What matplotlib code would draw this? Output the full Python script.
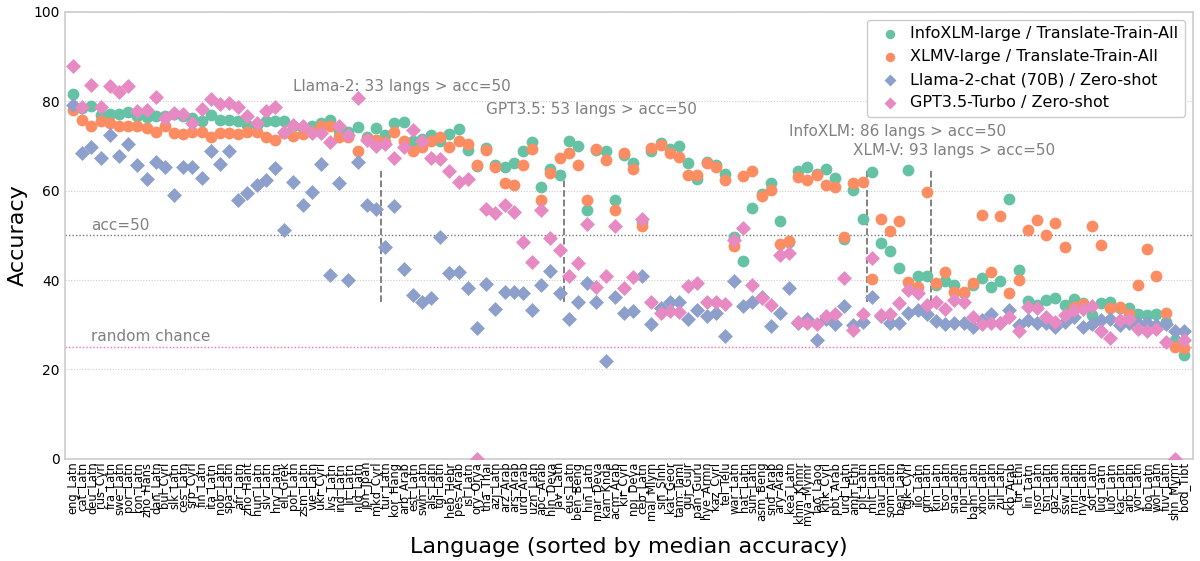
import numpy as np
import matplotlib
matplotlib.use("Agg")
import matplotlib.pyplot as plt


langs = [
    "eng_Latn", "cat_Latn", "deu_Latn", "rus_Cyrl", "fra_Latn", "swe_Latn", "por_Latn", "ron_Latn",
    "zho_Hans", "dan_Latn", "bul_Cyrl", "slk_Latn", "ces_Latn", "srp_Cyrl", "fin_Latn", "ita_Latn",
    "nob_Latn", "spa_Latn", "afr_Latn", "zho_Hant", "hun_Latn", "slv_Latn", "hrv_Latn", "ell_Grek",
    "pol_Latn", "zsm_Latn", "vie_Latn", "ukr_Cyrl", "lvs_Latn", "ind_Latn", "lit_Latn", "nld_Latn",
    "jpn_Jpan", "mkd_Cyrl", "tur_Latn", "kor_Hang", "arb_Arab", "est_Latn", "swh_Latn", "als_Latn",
    "tgl_Latn", "heb_Hebr", "pes_Arab", "isl_Latn", "ory_Orya", "tha_Thai", "azj_Latn", "arz_Arab",
    "ars_Arab", "urd_Arab", "uzn_Latn", "apc_Arab", "hin_Deva", "jav_Latn", "eus_Latn", "ben_Beng",
    "hin_Latn", "mar_Deva", "kan_Knda", "acm_Arab", "kir_Cyrl", "npi_Deva", "ceb_Latn", "mal_Mlym",
    "sin_Sinh", "kat_Geor", "tam_Taml", "guj_Gujr", "pan_Guru", "hye_Armn", "kaz_Cyrl", "tel_Telu",
    "war_Latn", "hat_Latn", "sun_Latn", "asm_Beng", "snd_Arab", "ary_Arab", "kea_Latn", "khm_Khmr",
    "mya_Mymr", "lao_Laoo", "khk_Cyrl", "pbt_Arab", "urd_Latn", "amh_Ethi", "plt_Latn", "mlt_Latn",
    "hau_Latn", "som_Latn", "ben_Latn", "tgk_Cyrl", "ilo_Latn", "grn_Latn", "kin_Latn", "tso_Latn",
    "sna_Latn", "npi_Latn", "bam_Latn", "xho_Latn", "sin_Latn", "zul_Latn", "ckb_Arab", "tir_Ethi",
    "lin_Latn", "nso_Latn", "tsn_Latn", "gaz_Latn", "ssw_Latn", "mri_Latn", "nya_Latn", "sot_Latn",
    "lug_Latn", "luo_Latn", "kac_Latn", "arb_Latn", "yor_Latn", "ibo_Latn", "wol_Latn", "fuv_Latn",
    "shn_Mymr", "bod_Tibt",
]

infoxlm = [
    81.6, 78.5, 79.0, 77.0, 77.1, 77.1, 77.5, 76.6, 76.4, 76.7, 76.8, 77.1, 76.6, 76.2, 75.5, 77.0,
    75.7, 75.7, 75.5, 74.7, 74.7, 75.6, 75.6, 75.5, 74.4, 73.9, 74.4, 75.1, 75.8, 73.4, 73.2, 74.2,
    72.1, 74.1, 72.5, 75.1, 75.4, 71.0, 71.5, 72.5, 71.0, 72.6, 73.8, 69.1, 65.5, 69.5, 65.8, 65.2,
    66.1, 68.8, 70.8, 60.8, 64.8, 63.5, 71.0, 69.9, 55.7, 69.0, 68.8, 57.8, 68.0, 66.1, 53.0, 68.8,
    70.6, 69.3, 69.9, 66.1, 62.6, 66.3, 65.8, 63.7, 49.7, 44.3, 56.1, 59.2, 61.7, 53.1, 48.4, 64.5,
    65.3, 63.8, 64.8, 62.8, 49.1, 60.2, 53.6, 64.1, 48.3, 46.4, 42.8, 64.7, 40.8, 40.8, 39.0, 39.7,
    38.9, 37.1, 39.0, 40.4, 38.5, 39.8, 58.2, 42.3, 35.4, 34.4, 35.6, 35.9, 34.4, 35.8, 34.8, 32.2,
    34.8, 35.2, 33.7, 33.8, 32.4, 32.2, 32.5, 30.7, 26.6, 23.3,
]

xlmv = [
    78.1, 75.8, 74.5, 75.6, 75.1, 74.5, 74.4, 74.4, 74.0, 73.2, 74.4, 72.8, 72.6, 73.2, 73.1, 72.1,
    73.0, 72.8, 72.7, 73.2, 73.2, 72.1, 71.4, 73.0, 72.3, 72.6, 73.1, 74.4, 74.5, 71.9, 72.1, 68.9,
    71.5, 71.4, 70.8, 73.2, 71.0, 68.9, 69.7, 71.0, 72.1, 69.7, 71.0, 70.4, 65.8, 69.1, 65.3, 61.7,
    61.3, 65.8, 69.2, 57.9, 63.9, 67.4, 68.5, 65.8, 57.8, 69.2, 66.9, 55.6, 68.5, 64.8, 52.1, 69.5,
    70.1, 68.4, 67.6, 63.5, 63.5, 66.1, 65.2, 62.4, 47.7, 63.3, 64.5, 58.8, 60.2, 48.1, 48.8, 63.0,
    62.4, 63.5, 61.3, 60.7, 49.6, 61.7, 61.9, 40.2, 53.6, 50.9, 53.3, 39.5, 38.5, 59.8, 39.3, 41.7,
    37.4, 37.4, 39.3, 54.6, 41.7, 54.4, 37.1, 40.0, 51.1, 53.5, 50.1, 52.7, 47.3, 34.0, 34.6, 52.1,
    47.9, 33.7, 33.9, 32.5, 38.8, 46.9, 40.8, 32.7, 25.0, 24.8,
]

llama2 = [
    79.2, 68.5, 69.8, 67.2, 72.5, 67.8, 70.4, 65.8, 62.6, 66.5, 65.3, 59.1, 65.3, 65.3, 62.9, 68.8,
    66.0, 68.8, 57.9, 59.4, 61.3, 62.4, 65.0, 51.1, 62.0, 56.7, 59.8, 66.0, 41.2, 61.7, 40.0, 66.5,
    56.8, 55.9, 47.5, 56.6, 42.4, 36.7, 35.2, 35.9, 49.7, 41.5, 41.9, 38.2, 29.2, 39.1, 33.5, 37.4,
    37.4, 37.2, 33.3, 38.9, 42.1, 37.2, 31.2, 35.2, 39.4, 35.0, 21.9, 36.1, 32.6, 33.1, 40.8, 30.1,
    33.7, 35.0, 35.0, 31.2, 33.2, 32.0, 32.6, 27.5, 39.7, 34.1, 35.0, 36.2, 29.8, 32.7, 38.2, 30.5,
    31.2, 26.6, 31.2, 30.2, 34.2, 29.9, 30.6, 36.3, 32.0, 30.3, 30.5, 32.7, 33.2, 32.4, 30.9, 30.1,
    30.3, 30.4, 29.4, 31.0, 32.4, 30.5, 33.2, 30.0, 31.0, 30.3, 30.3, 29.6, 30.7, 31.8, 29.5, 30.2,
    31.1, 31.2, 30.0, 30.4, 30.4, 30.4, 30.0, 30.2, 28.5, 28.5,
]

gpt35 = [
    87.9, 78.8, 83.7, 78.8, 83.5, 82.0, 83.3, 77.7, 78.1, 80.9, 76.2, 77.3, 77.2, 75.1, 78.2, 80.5,
    79.3, 79.5, 78.7, 76.7, 75.1, 77.7, 78.8, 73.2, 74.7, 74.4, 72.9, 72.9, 70.8, 74.4, 72.4, 80.7,
    71.4, 69.9, 70.4, 67.3, 69.7, 73.5, 71.1, 67.3, 67.0, 64.5, 62.0, 62.5, 0.0, 55.9, 55.0, 56.8,
    55.3, 48.4, 44.1, 55.7, 49.4, 46.8, 40.9, 43.8, 52.6, 38.5, 40.8, 52.0, 38.2, 40.6, 53.6, 35.0,
    32.6, 33.1, 32.8, 38.7, 39.3, 35.2, 35.2, 34.6, 48.9, 51.7, 38.9, 35.9, 34.4, 45.6, 46.0, 30.7,
    30.5, 30.2, 32.0, 32.4, 40.4, 28.9, 32.4, 45.0, 32.2, 32.5, 34.8, 37.8, 37.1, 34.4, 35.2, 33.5,
    35.6, 35.2, 31.8, 30.2, 30.3, 30.4, 31.8, 28.5, 33.9, 33.8, 31.8, 30.6, 32.2, 33.2, 33.5, 34.1,
    28.5, 27.0, 31.1, 31.4, 29.0, 28.5, 29.0, 26.2, 0.0, 26.6,
]

series_names = [
    "InfoXLM-large / Translate-Train-All",
    "XLMV-large / Translate-Train-All",
    "Llama-2-chat (70B) / Zero-shot",
    "GPT3.5-Turbo / Zero-shot",
]
langs_above_50 = [33, 53, 86, 93]

colors = ["#66c2a5", "#fc8d62", "#8da0cb", "#e78ac3"]
markers = ["o", "o", "D", "D"]
sizes = [72, 72, 58, 58]

fig = plt.figure(figsize=(12, 5.61), dpi=100)
ax = fig.add_axes([0.054, 0.182, 0.94, 0.797])

x = np.arange(len(langs))
for vals, name, c, m, s in zip([infoxlm, xlmv, llama2, gpt35], series_names, colors, markers, sizes):
    ax.scatter(x, vals, s=s, c=c, marker=m, label=name, linewidths=0, zorder=3)

ax.axhline(50, color="#777777", ls=(0, (1, 1.5)), lw=1.0, zorder=1)
ax.axhline(25, color="#ff69b4", ls=(0, (1, 1.5)), lw=1.0, zorder=1)
for n in langs_above_50:
    ax.plot([n + 0.5, n + 0.5], [35, 65], color="#777777", ls="--", lw=1.3, zorder=2)

txt = dict(color="#808080", fontsize=11, va="center", ha="left")
ax.text(2, 52.3, "acc=50", **txt)
ax.text(2, 27.3, "random chance", **txt)
ax.text(24, 83.2, "Llama-2: 33 langs > acc=50", **txt)
ax.text(45, 78.1, "GPT3.5: 53 langs > acc=50", **txt)
ax.text(78, 73.2, "InfoXLM: 86 langs > acc=50", **txt)
ax.text(85, 68.9, "XLM-V: 93 langs > acc=50", **txt)

ax.set_xlim(-0.9, len(langs) - 0.03)
ax.set_ylim(0, 100)
ax.set_yticks([0, 20, 40, 60, 80, 100])
ax.set_xticks(x)
ax.set_xticklabels(langs, rotation=90, fontsize=8.3)
ax.tick_params(axis="y", labelsize=10, length=0)
ax.tick_params(axis="x", length=0, pad=2)
ax.yaxis.grid(True, color="#cccccc", ls=(0, (1, 1.5)), lw=0.8)
ax.set_axisbelow(True)
for sp in ax.spines.values():
    sp.set_color("#cccccc")
    sp.set_linewidth(1.2)

ax.set_ylabel("Accuracy", fontsize=16)
ax.set_xlabel("Language (sorted by median accuracy)", fontsize=16, labelpad=9)

leg = ax.legend(loc="upper right", fontsize=11.5, markerscale=0.8, handletextpad=0.3,
                borderpad=0.4, labelspacing=0.5, framealpha=1.0)
leg.get_frame().set_edgecolor("#cccccc")

fig.savefig("out.png", dpi=100)
